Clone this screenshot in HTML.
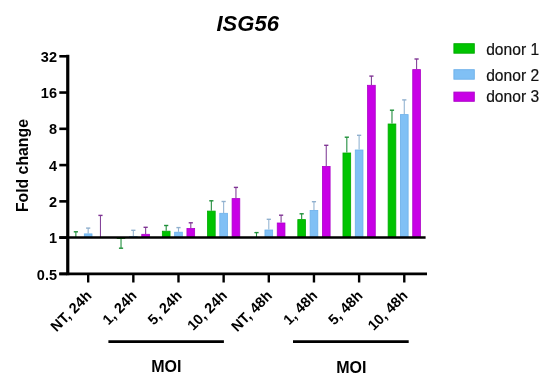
<!DOCTYPE html>
<html><head><meta charset="utf-8"><style>
html,body{margin:0;padding:0;background:#fff;}
body{width:550px;height:391px;overflow:hidden;}
svg{display:block;will-change:transform;}
text{font-family:"Liberation Sans",sans-serif;}
</style></head><body>
<svg width="550" height="391" viewBox="0 0 550 391">
<text x="247.7" y="31.4" text-anchor="middle" font-size="22" font-weight="bold" font-style="italic" fill="#000">ISG56</text>
<g>
<line x1="75.87" y1="237.30" x2="75.87" y2="231.80" stroke="#228E3E" stroke-width="1.1"/>
<line x1="73.77" y1="231.80" x2="77.97" y2="231.80" stroke="#1E9038" stroke-width="1.4"/>
<rect x="71.62" y="237.30" width="8.5" height="0.20" fill="#00C400"/>
<line x1="88.17" y1="233.50" x2="88.17" y2="228.10" stroke="#94B4D2" stroke-width="1.1"/>
<line x1="86.07" y1="228.10" x2="90.27" y2="228.10" stroke="#90B0CE" stroke-width="1.4"/>
<rect x="84.32" y="233.90" width="7.70" height="3.20" fill="#80C0F5" stroke="#6CB0EA" stroke-width="0.8"/>
<line x1="100.47" y1="237.30" x2="100.47" y2="215.40" stroke="#84449A" stroke-width="1.1"/>
<line x1="98.37" y1="215.40" x2="102.57" y2="215.40" stroke="#803594" stroke-width="1.4"/>
<rect x="96.22" y="237.30" width="8.5" height="0.20" fill="#C800E6"/>
<line x1="121.03" y1="239.00" x2="121.03" y2="248.20" stroke="#228E3E" stroke-width="1.1"/>
<line x1="118.93" y1="248.20" x2="123.13" y2="248.20" stroke="#1E9038" stroke-width="1.4"/>
<rect x="117.18" y="237.90" width="7.70" height="0.70" fill="#00C400" stroke="#00A800" stroke-width="0.8"/>
<line x1="133.33" y1="236.20" x2="133.33" y2="230.30" stroke="#94B4D2" stroke-width="1.1"/>
<line x1="131.23" y1="230.30" x2="135.43" y2="230.30" stroke="#90B0CE" stroke-width="1.4"/>
<rect x="129.48" y="236.60" width="7.70" height="0.50" fill="#80C0F5" stroke="#6CB0EA" stroke-width="0.8"/>
<line x1="145.63" y1="233.90" x2="145.63" y2="227.30" stroke="#84449A" stroke-width="1.1"/>
<line x1="143.53" y1="227.30" x2="147.73" y2="227.30" stroke="#803594" stroke-width="1.4"/>
<rect x="141.78" y="234.30" width="7.70" height="2.80" fill="#C800E6" stroke="#AC00C8" stroke-width="0.8"/>
<line x1="166.19" y1="230.80" x2="166.19" y2="225.50" stroke="#228E3E" stroke-width="1.1"/>
<line x1="164.09" y1="225.50" x2="168.29" y2="225.50" stroke="#1E9038" stroke-width="1.4"/>
<rect x="162.34" y="231.20" width="7.70" height="5.90" fill="#00C400" stroke="#00A800" stroke-width="0.8"/>
<line x1="178.49" y1="231.80" x2="178.49" y2="227.60" stroke="#94B4D2" stroke-width="1.1"/>
<line x1="176.39" y1="227.60" x2="180.59" y2="227.60" stroke="#90B0CE" stroke-width="1.4"/>
<rect x="174.64" y="232.20" width="7.70" height="4.90" fill="#80C0F5" stroke="#6CB0EA" stroke-width="0.8"/>
<line x1="190.79" y1="228.10" x2="190.79" y2="222.80" stroke="#84449A" stroke-width="1.1"/>
<line x1="188.69" y1="222.80" x2="192.89" y2="222.80" stroke="#803594" stroke-width="1.4"/>
<rect x="186.94" y="228.50" width="7.70" height="8.60" fill="#C800E6" stroke="#AC00C8" stroke-width="0.8"/>
<line x1="211.34" y1="210.70" x2="211.34" y2="200.80" stroke="#228E3E" stroke-width="1.1"/>
<line x1="209.24" y1="200.80" x2="213.44" y2="200.80" stroke="#1E9038" stroke-width="1.4"/>
<rect x="207.49" y="211.10" width="7.70" height="26.00" fill="#00C400" stroke="#00A800" stroke-width="0.8"/>
<line x1="223.64" y1="212.90" x2="223.64" y2="201.50" stroke="#94B4D2" stroke-width="1.1"/>
<line x1="221.54" y1="201.50" x2="225.74" y2="201.50" stroke="#90B0CE" stroke-width="1.4"/>
<rect x="219.79" y="213.30" width="7.70" height="23.80" fill="#80C0F5" stroke="#6CB0EA" stroke-width="0.8"/>
<line x1="235.94" y1="198.20" x2="235.94" y2="187.40" stroke="#84449A" stroke-width="1.1"/>
<line x1="233.84" y1="187.40" x2="238.04" y2="187.40" stroke="#803594" stroke-width="1.4"/>
<rect x="232.09" y="198.60" width="7.70" height="38.50" fill="#C800E6" stroke="#AC00C8" stroke-width="0.8"/>
<line x1="256.50" y1="237.00" x2="256.50" y2="232.60" stroke="#228E3E" stroke-width="1.1"/>
<line x1="254.40" y1="232.60" x2="258.60" y2="232.60" stroke="#1E9038" stroke-width="1.4"/>
<rect x="252.25" y="237.00" width="8.5" height="0.50" fill="#00C400"/>
<line x1="268.80" y1="229.60" x2="268.80" y2="219.30" stroke="#94B4D2" stroke-width="1.1"/>
<line x1="266.70" y1="219.30" x2="270.90" y2="219.30" stroke="#90B0CE" stroke-width="1.4"/>
<rect x="264.95" y="230.00" width="7.70" height="7.10" fill="#80C0F5" stroke="#6CB0EA" stroke-width="0.8"/>
<line x1="281.10" y1="222.60" x2="281.10" y2="215.20" stroke="#84449A" stroke-width="1.1"/>
<line x1="279.00" y1="215.20" x2="283.20" y2="215.20" stroke="#803594" stroke-width="1.4"/>
<rect x="277.25" y="223.00" width="7.70" height="14.10" fill="#C800E6" stroke="#AC00C8" stroke-width="0.8"/>
<line x1="301.66" y1="219.20" x2="301.66" y2="213.80" stroke="#228E3E" stroke-width="1.1"/>
<line x1="299.56" y1="213.80" x2="303.76" y2="213.80" stroke="#1E9038" stroke-width="1.4"/>
<rect x="297.81" y="219.60" width="7.70" height="17.50" fill="#00C400" stroke="#00A800" stroke-width="0.8"/>
<line x1="313.96" y1="210.00" x2="313.96" y2="201.70" stroke="#94B4D2" stroke-width="1.1"/>
<line x1="311.86" y1="201.70" x2="316.06" y2="201.70" stroke="#90B0CE" stroke-width="1.4"/>
<rect x="310.11" y="210.40" width="7.70" height="26.70" fill="#80C0F5" stroke="#6CB0EA" stroke-width="0.8"/>
<line x1="326.26" y1="166.00" x2="326.26" y2="145.30" stroke="#84449A" stroke-width="1.1"/>
<line x1="324.16" y1="145.30" x2="328.36" y2="145.30" stroke="#803594" stroke-width="1.4"/>
<rect x="322.41" y="166.40" width="7.70" height="70.70" fill="#C800E6" stroke="#AC00C8" stroke-width="0.8"/>
<line x1="346.82" y1="152.60" x2="346.82" y2="137.20" stroke="#228E3E" stroke-width="1.1"/>
<line x1="344.72" y1="137.20" x2="348.92" y2="137.20" stroke="#1E9038" stroke-width="1.4"/>
<rect x="342.97" y="153.00" width="7.70" height="84.10" fill="#00C400" stroke="#00A800" stroke-width="0.8"/>
<line x1="359.12" y1="149.60" x2="359.12" y2="135.30" stroke="#94B4D2" stroke-width="1.1"/>
<line x1="357.02" y1="135.30" x2="361.22" y2="135.30" stroke="#90B0CE" stroke-width="1.4"/>
<rect x="355.27" y="150.00" width="7.70" height="87.10" fill="#80C0F5" stroke="#6CB0EA" stroke-width="0.8"/>
<line x1="371.42" y1="84.90" x2="371.42" y2="76.10" stroke="#84449A" stroke-width="1.1"/>
<line x1="369.32" y1="76.10" x2="373.52" y2="76.10" stroke="#803594" stroke-width="1.4"/>
<rect x="367.57" y="85.30" width="7.70" height="151.80" fill="#C800E6" stroke="#AC00C8" stroke-width="0.8"/>
<line x1="391.98" y1="123.60" x2="391.98" y2="110.20" stroke="#228E3E" stroke-width="1.1"/>
<line x1="389.88" y1="110.20" x2="394.08" y2="110.20" stroke="#1E9038" stroke-width="1.4"/>
<rect x="388.13" y="124.00" width="7.70" height="113.10" fill="#00C400" stroke="#00A800" stroke-width="0.8"/>
<line x1="404.28" y1="114.20" x2="404.28" y2="99.90" stroke="#94B4D2" stroke-width="1.1"/>
<line x1="402.18" y1="99.90" x2="406.38" y2="99.90" stroke="#90B0CE" stroke-width="1.4"/>
<rect x="400.43" y="114.60" width="7.70" height="122.50" fill="#80C0F5" stroke="#6CB0EA" stroke-width="0.8"/>
<line x1="416.58" y1="69.20" x2="416.58" y2="59.00" stroke="#84449A" stroke-width="1.1"/>
<line x1="414.48" y1="59.00" x2="418.68" y2="59.00" stroke="#803594" stroke-width="1.4"/>
<rect x="412.73" y="69.60" width="7.70" height="167.50" fill="#C800E6" stroke="#AC00C8" stroke-width="0.8"/>
</g>
<line x1="59.3" y1="237.5" x2="425.6" y2="237.5" stroke="#000" stroke-width="2.5"/>
<line x1="59.3" y1="273.9" x2="427" y2="273.9" stroke="#000" stroke-width="2.6"/>
<line x1="67.75" y1="54.8" x2="67.75" y2="275.2" stroke="#000" stroke-width="3.2"/>
<g font-size="14.5" font-weight="bold" fill="#000">
<line x1="59.3" y1="273.90" x2="67" y2="273.90" stroke="#000" stroke-width="2.6"/>
<text x="57" y="279.50" text-anchor="end">0.5</text>
<line x1="59.3" y1="237.63" x2="67" y2="237.63" stroke="#000" stroke-width="2.6"/>
<text x="57" y="243.23" text-anchor="end">1</text>
<line x1="59.3" y1="201.36" x2="67" y2="201.36" stroke="#000" stroke-width="2.6"/>
<text x="57" y="206.96" text-anchor="end">2</text>
<line x1="59.3" y1="165.09" x2="67" y2="165.09" stroke="#000" stroke-width="2.6"/>
<text x="57" y="170.69" text-anchor="end">4</text>
<line x1="59.3" y1="128.82" x2="67" y2="128.82" stroke="#000" stroke-width="2.6"/>
<text x="57" y="134.42" text-anchor="end">8</text>
<line x1="59.3" y1="92.55" x2="67" y2="92.55" stroke="#000" stroke-width="2.6"/>
<text x="57" y="98.15" text-anchor="end">16</text>
<line x1="59.3" y1="56.28" x2="67" y2="56.28" stroke="#000" stroke-width="2.6"/>
<text x="57" y="61.88" text-anchor="end">32</text>
</g>
<line x1="88.17" y1="273.9" x2="88.17" y2="282.5" stroke="#000" stroke-width="2.4"/>
<line x1="133.33" y1="273.9" x2="133.33" y2="282.5" stroke="#000" stroke-width="2.4"/>
<line x1="178.49" y1="273.9" x2="178.49" y2="282.5" stroke="#000" stroke-width="2.4"/>
<line x1="223.64" y1="273.9" x2="223.64" y2="282.5" stroke="#000" stroke-width="2.4"/>
<line x1="268.80" y1="273.9" x2="268.80" y2="282.5" stroke="#000" stroke-width="2.4"/>
<line x1="313.96" y1="273.9" x2="313.96" y2="282.5" stroke="#000" stroke-width="2.4"/>
<line x1="359.12" y1="273.9" x2="359.12" y2="282.5" stroke="#000" stroke-width="2.4"/>
<line x1="404.28" y1="273.9" x2="404.28" y2="282.5" stroke="#000" stroke-width="2.4"/>
<g font-size="14.5" font-weight="bold" fill="#000">
<text x="92.47" y="296.60" text-anchor="end" transform="rotate(-45 92.47 296.60)">NT, 24h</text>
<text x="137.63" y="296.60" text-anchor="end" transform="rotate(-45 137.63 296.60)">1, 24h</text>
<text x="182.79" y="296.60" text-anchor="end" transform="rotate(-45 182.79 296.60)">5, 24h</text>
<text x="227.94" y="296.60" text-anchor="end" transform="rotate(-45 227.94 296.60)">10, 24h</text>
<text x="273.10" y="296.60" text-anchor="end" transform="rotate(-45 273.10 296.60)">NT, 48h</text>
<text x="318.26" y="296.60" text-anchor="end" transform="rotate(-45 318.26 296.60)">1, 48h</text>
<text x="363.42" y="296.60" text-anchor="end" transform="rotate(-45 363.42 296.60)">5, 48h</text>
<text x="408.58" y="296.60" text-anchor="end" transform="rotate(-45 408.58 296.60)">10, 48h</text>
</g>
<text x="28" y="165.6" text-anchor="middle" font-size="15.8" font-weight="bold" fill="#000" transform="rotate(-90 28 165.6)">Fold change</text>
<line x1="108.4" y1="341.6" x2="223.9" y2="341.6" stroke="#000" stroke-width="2.7"/>
<line x1="293" y1="341.6" x2="408.7" y2="341.6" stroke="#000" stroke-width="2.7"/>
<g font-size="16" font-weight="bold" fill="#000" text-anchor="middle">
<text x="166.3" y="372.4">MOI</text>
<text x="351.3" y="373.0">MOI</text>
</g>
<rect x="453.9" y="43.7" width="20.4" height="9.5" fill="#00C400" stroke="#00A800" stroke-width="0.9"/>
<rect x="453.9" y="69.7" width="20.4" height="9.5" fill="#80C0F5" stroke="#6CB0EA" stroke-width="0.9"/>
<rect x="453.9" y="92.1" width="20.4" height="9.2" fill="#C800E6" stroke="#AC00C8" stroke-width="0.9"/>
<g font-size="15.6" fill="#111" stroke="#111" stroke-width="0.2">
<text x="486.2" y="54.7">donor 1</text>
<text x="486.2" y="80.7">donor 2</text>
<text x="486.2" y="102.2">donor 3</text>
</g>
</svg>
</body></html>
